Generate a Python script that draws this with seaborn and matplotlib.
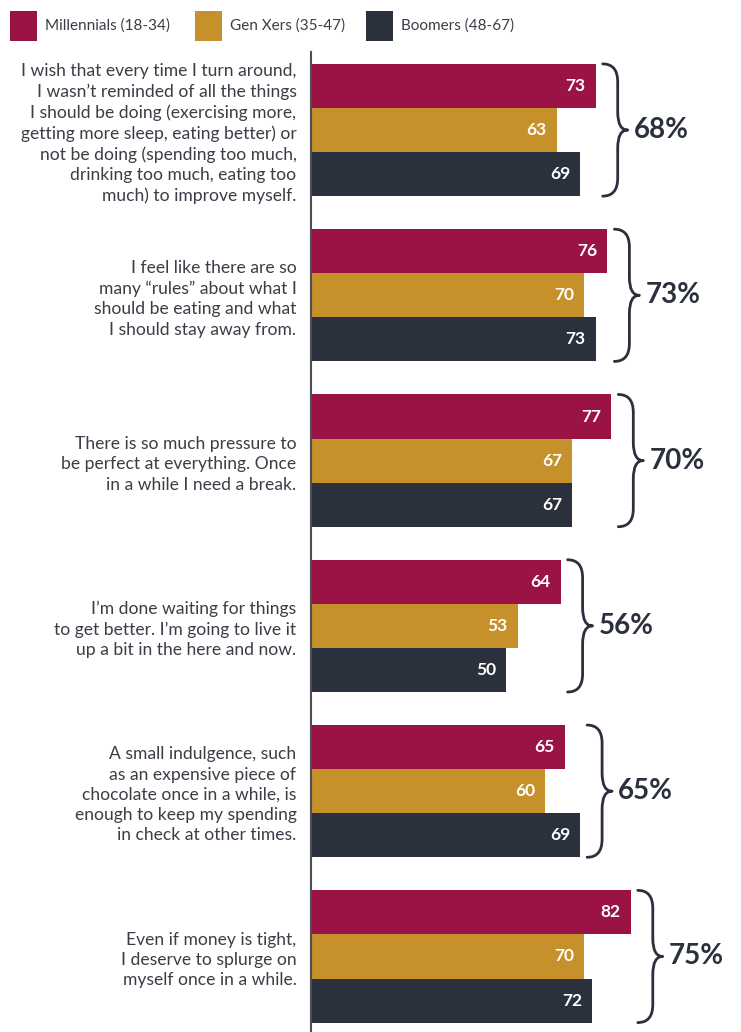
import matplotlib
matplotlib.use("Agg")
import matplotlib.pyplot as plt
from matplotlib.path import Path
from matplotlib.patches import PathPatch, Rectangle
import pandas as pd
import seaborn as sns

# ---- data -------------------------------------------------------------
statements = [
    "I wish that every time I turn around,\nI wasn\u2019t reminded of all the things\nI should be doing (exercising more,\ngetting more sleep, eating better) or\nnot be doing (spending too much,\ndrinking too much, eating too\nmuch) to improve myself.",
    "I feel like there are so\nmany \u201crules\u201d about what I\nshould be eating and what\nI should stay away from.",
    "There is so much pressure to\nbe perfect at everything. Once\nin a while I need a break.",
    "I\u2019m done waiting for things\nto get better. I\u2019m going to live it\nup a bit in the here and now.",
    "A small indulgence, such\nas an expensive piece of\nchocolate once in a while, is\nenough to keep my spending\nin check at other times.",
    "Even if money is tight,\nI deserve to splurge on\nmyself once in a while.",
]
generations = ["Millennials (18-34)", "Gen Xers (35-47)", "Boomers (48-67)"]
millennials = [73, 76, 77, 64, 65, 82]
gen_xers = [63, 70, 67, 53, 60, 70]
boomers = [69, 73, 67, 50, 69, 72]
overall = [68, 73, 70, 56, 65, 75]

colors = ["#9B1244", "#C6902A", "#2B303D"]
dark = "#2B303D"
label_color = "#3B3D47"

rows = []
for i, s in enumerate(statements):
    for g, vals in zip(generations, [millennials, gen_xers, boomers]):
        rows.append({"statement": s, "generation": g, "value": vals[i]})
df = pd.DataFrame(rows)

# ---- figure -----------------------------------------------------------
W, H = 741, 1032
fig = plt.figure(figsize=(W / 100, H / 100), dpi=100)
fig.patch.set_facecolor("white")
ax_left, ax_right, ax_top, ax_bottom = 311, 701, 52, 1032
ax = fig.add_axes([ax_left / W, 1 - ax_bottom / H,
                   (ax_right - ax_left) / W, (ax_bottom - ax_top) / H])

sns.barplot(data=df, y="statement", x="value", hue="generation",
            order=statements, hue_order=generations, palette=colors,
            orient="h", width=0.8, saturation=1, ax=ax, legend=False,
            edgecolor="none", linewidth=0)

ax.set_xlim(0, 100)
ax.set_ylim(5.457, -0.472)
ax.set_xlabel("")
ax.set_ylabel("")
ax.xaxis.set_visible(False)
for side in ["top", "right", "bottom"]:
    ax.spines[side].set_visible(False)
ax.spines["left"].set_color("#4A4E5A")
ax.spines["left"].set_linewidth(1.5)
ax.set_facecolor("white")

ax.tick_params(axis="y", length=0, pad=10.5)
for lbl in ax.get_yticklabels():
    lbl.set_fontfamily("Lato")
    lbl.set_fontsize(12.6)
    lbl.set_color(label_color)
    lbl.set_linespacing(1.33)
    lbl.set_multialignment("right")

# value labels inside the bar ends
for cont in ax.containers:
    for bar in cont:
        w = bar.get_width()
        yc = bar.get_y() + bar.get_height() / 2
        ax.annotate(f"{w:.0f}", xy=(w, yc), xytext=(-10, 0),
                    textcoords="offset pixels", ha="right", va="center",
                    color="white", fontsize=12.5, fontweight="bold",
                    fontfamily="Lato")

# braces with overall percentage
px_x = (ax_right - ax_left) / 100.0
px_y = (ax_bottom - ax_top) / (5.457 + 0.472)
group_max = [max(a, b, c) for a, b, c in zip(millennials, gen_xers, boomers)]
for i, (m, pct) in enumerate(zip(group_max, overall)):
    xe = m + 7 / px_x
    xs = m + 22 / px_x
    xt = m + 32 / px_x
    top, bot, mid = i - 0.4, i + 0.4, i
    r = 18 / px_y
    verts = [(xe, top), (xs, top), (xs, top + r),
             (xs, mid - r), (xs, mid), (xt, mid),
             (xs, mid), (xs, mid + r),
             (xs, bot - r), (xs, bot), (xe, bot)]
    codes = [Path.MOVETO, Path.CURVE3, Path.CURVE3,
             Path.LINETO, Path.CURVE3, Path.CURVE3,
             Path.CURVE3, Path.CURVE3,
             Path.LINETO, Path.CURVE3, Path.CURVE3]
    ax.add_patch(PathPatch(Path(verts, codes), facecolor="none",
                           edgecolor=dark, linewidth=2.0, clip_on=False,
                           capstyle="round", joinstyle="round"))
    ax.text(m + 38 / px_x, mid, f"{pct}%", ha="left", va="center",
            color=dark, fontsize=20, fontweight="bold", fontfamily="Lato",
            clip_on=False)

# legend along the top
legend_x = [10, 195, 366]
for x0, g, c in zip(legend_x, generations, colors):
    fig.add_artist(Rectangle((x0 / W, 1 - 41 / H), 27 / W, 30 / H,
                             transform=fig.transFigure, facecolor=c,
                             edgecolor="none"))
    fig.text((x0 + 35) / W, 1 - 26 / H, g, ha="left", va="center",
             fontsize=11, fontfamily="Lato", color=label_color)

fig.savefig("out.png", dpi=100, facecolor="white")
